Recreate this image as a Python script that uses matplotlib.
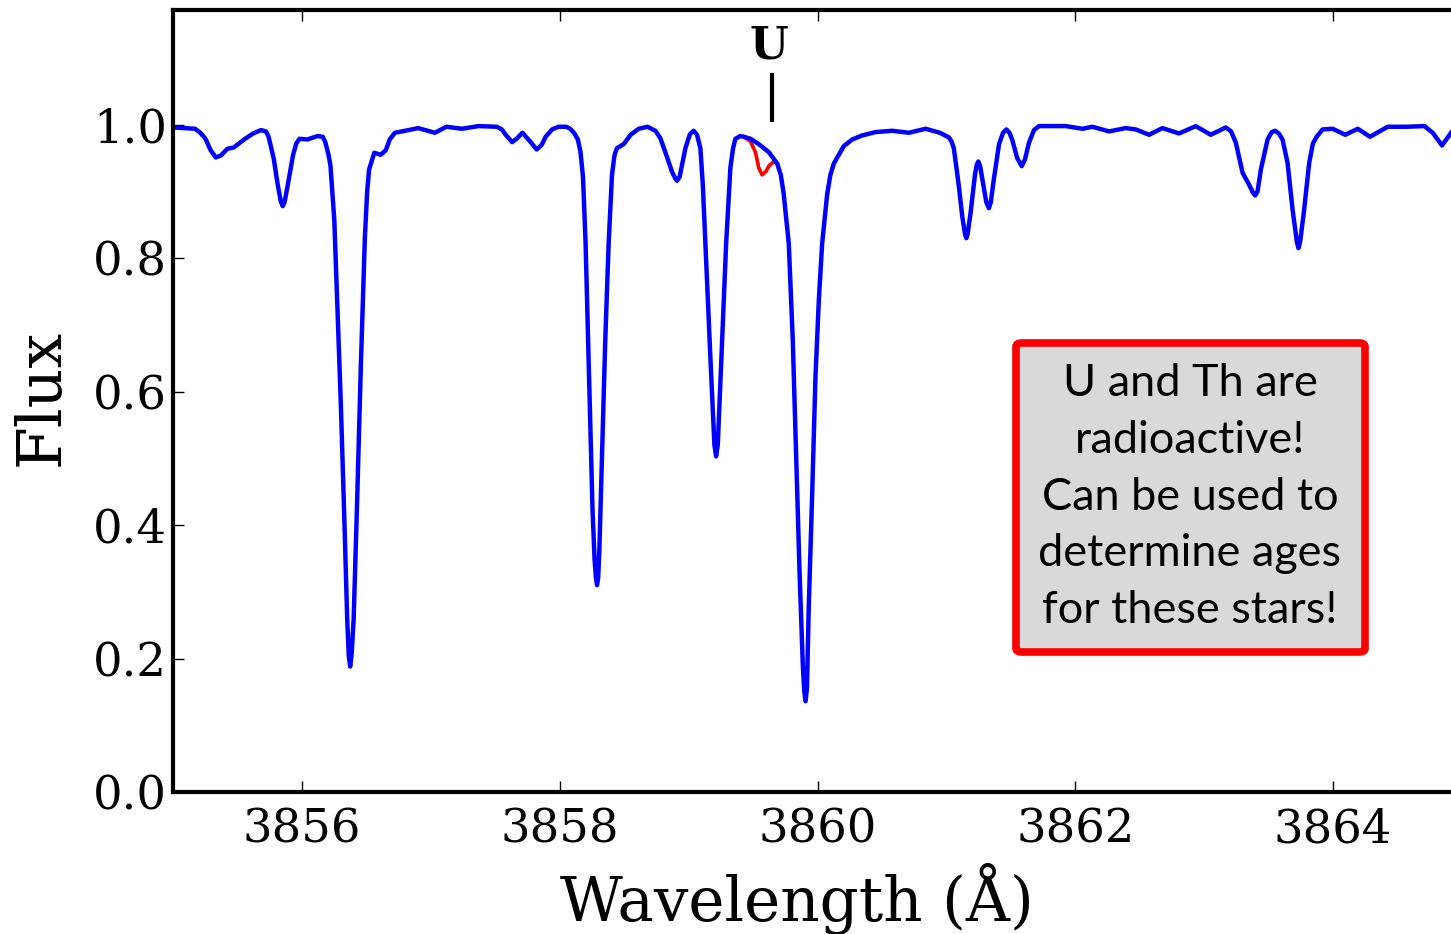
import matplotlib
matplotlib.use('Agg')
import matplotlib.pyplot as plt
from matplotlib.patches import FancyBboxPatch

# spectrum (wavelength in A, normalised flux)
wave = [3855.00, 3855.17, 3855.21, 3855.25, 3855.29, 3855.33, 3855.37, 3855.42, 3855.47,
        3855.55, 3855.62, 3855.68, 3855.72, 3855.74, 3855.78, 3855.81, 3855.835, 3855.85,
        3855.865, 3855.89, 3855.93, 3855.955, 3855.98, 3856.04, 3856.12, 3856.16, 3856.18,
        3856.205, 3856.22, 3856.25, 3856.27, 3856.30, 3856.33, 3856.35, 3856.362, 3856.373,
        3856.384, 3856.40, 3856.425, 3856.456, 3856.487, 3856.505, 3856.52, 3856.56, 3856.61,
        3856.65, 3856.68, 3856.72, 3856.80, 3856.90, 3857.03, 3857.12, 3857.24, 3857.37,
        3857.51, 3857.55, 3857.58, 3857.63, 3857.67, 3857.71, 3857.77, 3857.82, 3857.86,
        3857.89, 3857.94, 3857.99, 3858.05, 3858.08, 3858.11, 3858.14, 3858.16, 3858.18,
        3858.20, 3858.22, 3858.24, 3858.254, 3858.27, 3858.28, 3858.289, 3858.298, 3858.307,
        3858.328, 3858.353, 3858.379, 3858.405, 3858.425, 3858.444, 3858.496, 3858.55,
        3858.612, 3858.68, 3858.742, 3858.78, 3858.819, 3858.87, 3858.895, 3858.910, 3858.93,
        3858.975, 3859.01, 3859.039, 3859.065, 3859.091, 3859.110, 3859.130, 3859.169,
        3859.20, 3859.213, 3859.226, 3859.254, 3859.291, 3859.324, 3859.345, 3859.363,
        3859.40, 3859.428, 3859.480, 3859.544, 3859.622, 3859.687, 3859.715, 3859.738,
        3859.777, 3859.808, 3859.834, 3859.860, 3859.886, 3859.897, 3859.907, 3859.918,
        3859.932, 3859.959, 3859.984, 3860.010, 3860.036, 3860.075, 3860.10, 3860.127,
        3860.204, 3860.27, 3860.347, 3860.45, 3860.580, 3860.709, 3860.839, 3860.95,
        3861.020, 3861.040, 3861.058, 3861.097, 3861.124, 3861.145, 3861.155, 3861.165,
        3861.188, 3861.222, 3861.236, 3861.248, 3861.262, 3861.279, 3861.310, 3861.330,
        3861.345, 3861.369, 3861.409, 3861.440, 3861.466, 3861.490, 3861.512, 3861.550,
        3861.585, 3861.610, 3861.641, 3861.680, 3861.719, 3861.926, 3862.056, 3862.134,
        3862.263, 3862.392, 3862.470, 3862.573, 3862.677, 3862.806, 3862.936, 3863.052,
        3863.169, 3863.210, 3863.247, 3863.299, 3863.350, 3863.380, 3863.397, 3863.415,
        3863.441, 3863.493, 3863.525, 3863.552, 3863.580, 3863.609, 3863.648, 3863.687,
        3863.720, 3863.733, 3863.746, 3863.777, 3863.816, 3863.845, 3863.874, 3863.920,
        3863.998, 3864.096, 3864.193, 3864.288, 3864.425, 3864.567, 3864.710, 3864.775,
        3864.847, 3864.924, 3865.000]
flux = [0.996, 0.994, 0.988, 0.979, 0.962, 0.951, 0.954, 0.964, 0.966,
        0.978, 0.987, 0.992, 0.990, 0.982, 0.949, 0.911, 0.885, 0.878,
        0.885, 0.911, 0.955, 0.972, 0.979, 0.978, 0.983, 0.982, 0.974,
        0.955, 0.939, 0.857, 0.748, 0.585, 0.395, 0.259, 0.205, 0.188,
        0.205, 0.259, 0.422, 0.639, 0.830, 0.900, 0.933, 0.958, 0.955,
        0.962, 0.978, 0.988, 0.991, 0.995, 0.988, 0.997, 0.994, 0.998,
        0.997, 0.993, 0.985, 0.974, 0.980, 0.988, 0.975, 0.963, 0.970,
        0.982, 0.993, 0.997, 0.997, 0.994, 0.988, 0.978, 0.960, 0.922,
        0.823, 0.673, 0.523, 0.423, 0.348, 0.322, 0.310, 0.322, 0.363,
        0.506, 0.678, 0.822, 0.925, 0.955, 0.965, 0.971, 0.985,
        0.994, 0.997, 0.991, 0.980, 0.959, 0.930, 0.920, 0.916, 0.922,
        0.965, 0.986, 0.991, 0.985, 0.965, 0.910, 0.822, 0.650,
        0.520, 0.503, 0.520, 0.650, 0.822, 0.936, 0.965, 0.979,
        0.983, 0.982, 0.979, 0.971, 0.959, 0.942, 0.925, 0.896,
        0.822, 0.678, 0.506, 0.334, 0.190, 0.152, 0.136, 0.155,
        0.277, 0.449, 0.621, 0.736, 0.822, 0.896, 0.925, 0.942,
        0.968, 0.978, 0.984, 0.989, 0.991, 0.988, 0.994, 0.988,
        0.981, 0.975, 0.965, 0.908, 0.862, 0.836, 0.830, 0.836,
        0.868, 0.925, 0.940, 0.945, 0.938, 0.919, 0.884, 0.875,
        0.884, 0.919, 0.971, 0.988, 0.993, 0.988, 0.977, 0.950,
        0.938, 0.948, 0.973, 0.992, 0.998, 0.998, 0.994, 0.997,
        0.990, 0.995, 0.993, 0.985, 0.995, 0.987, 0.998, 0.985,
        0.996, 0.990, 0.973, 0.928, 0.910, 0.898, 0.894, 0.900,
        0.933, 0.978, 0.989, 0.991, 0.987, 0.978, 0.943, 0.873,
        0.825, 0.815, 0.825, 0.873, 0.943, 0.972, 0.982, 0.993,
        0.994, 0.985, 0.994, 0.982, 0.997, 0.997, 0.998, 0.988,
        0.969, 0.990, 0.997]

# synthesis with uranium included, only differs around the U line
wave_u = [3859.428, 3859.480, 3859.518, 3859.545, 3859.570, 3859.600, 3859.622, 3859.661, 3859.687]
flux_u = [0.982, 0.975, 0.959, 0.935, 0.925, 0.930, 0.938, 0.945, 0.942]

u_line = 3859.65

fig = plt.figure(figsize=(14.51, 9.34), dpi=100)
ax = fig.add_axes([173.25/1451, 1 - 792/934, 1288.5/1451, 782/934])

ax.plot(wave_u, flux_u, color='red', lw=2.6, solid_joinstyle='round')
ax.plot(wave, flux, color='blue', lw=3.2, solid_joinstyle='round')

ax.set_xlim(3855, 3865)
ax.set_ylim(0, 1.172)
ax.set_xticks([3856, 3858, 3860, 3862, 3864])
ax.set_yticks([0.0, 0.2, 0.4, 0.6, 0.8, 1.0])
ax.set_yticklabels(['0.0', '0.2', '0.4', '0.6', '0.8', '1.0'])
ax.tick_params(direction='in', length=8, width=1, top=True, right=True,
               labelsize=33.5)
ax.tick_params(axis='x', pad=11)
ax.tick_params(axis='y', pad=4.5)
for lab in ax.get_xticklabels() + ax.get_yticklabels():
    lab.set_family('DejaVu Serif')
for s in ax.spines.values():
    s.set_linewidth(3)

ax.set_xlabel('Wavelength (Å)', family='DejaVu Serif', fontsize=44, va='baseline')
ax.xaxis.set_label_coords(0.484, -0.165)
ax.set_ylabel('Flux', family='DejaVu Serif', fontsize=44.5, va='baseline')
ax.yaxis.set_label_coords(-0.089, 0.505)

# U marker
ax.plot([u_line, u_line], [1.0075, 1.075], color='black', lw=3)
ax.text(u_line - 0.03, 1.118, 'U', family='DejaVu Serif', fontweight='bold',
        fontsize=32, ha='center', va='center')

# note box
box = FancyBboxPatch((1016/1451, 1 - 652/934), 349/1451, 309/934,
                     boxstyle='round,pad=0,rounding_size=0.004',
                     transform=fig.transFigure, fc='#d9d9d9', ec='red', lw=5.5)
fig.patches.append(box)
fig.text(1190/1451, 1 - 497/934,
         'U and Th are\nradioactive!\nCan be used to\ndetermine ages\nfor these stars!',
         family='Lato', fontsize=32.5, ha='center', va='center',
         multialignment='center', linespacing=1.47)

fig.savefig('out.png', dpi=100)
